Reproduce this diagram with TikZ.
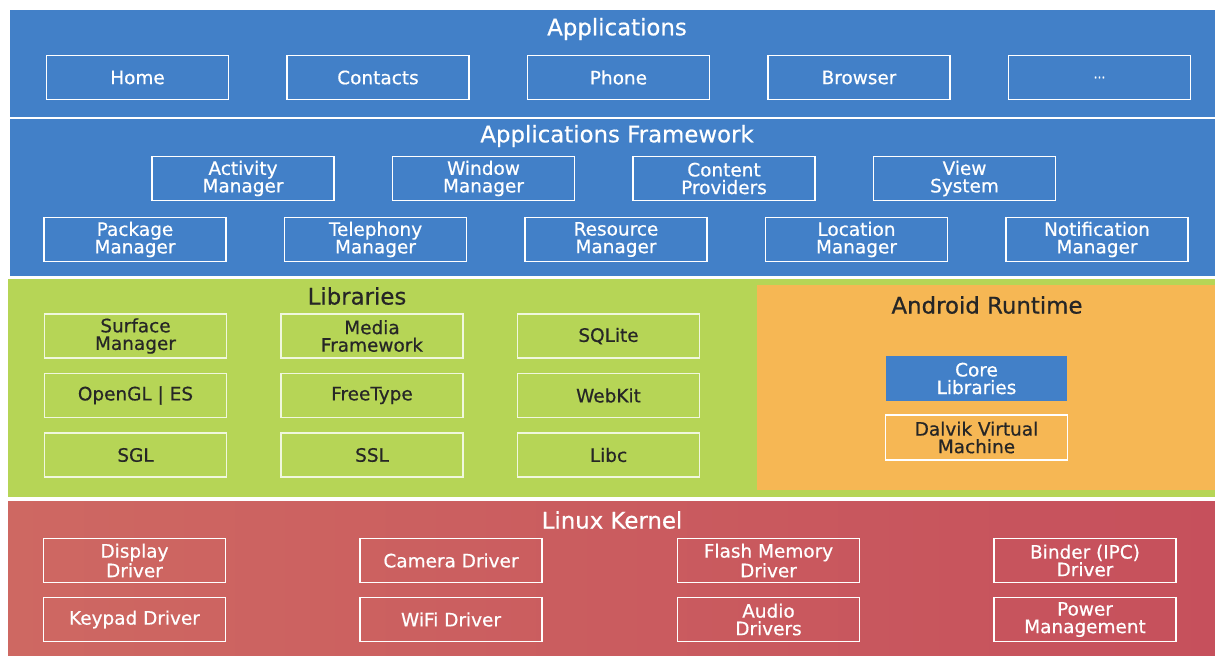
\documentclass[tikz,border=0pt]{standalone}
\usepackage{fontspec}
\setmainfont{DejaVu Sans}
\newfontfamily\medfont{DejaVu Sans}[FakeBold=0.6]
\usepackage{tikz}
\definecolor{appblue}{RGB}{66,128,200}
\definecolor{libgreen}{RGB}{182,213,86}
\definecolor{rtorange}{RGB}{246,183,84}
\definecolor{kernredL}{RGB}{206,104,98}
\definecolor{kernredR}{RGB}{198,80,92}
\definecolor{inkdark}{RGB}{38,38,38}
\tikzset{node distance=4.81cm, auto,
  box/.style={draw=white, line width=0.9pt, minimum width=3.64cm, minimum height=0.88cm,
              inner sep=0pt, align=center, font=\medfont\fontsize{10.5}{10}\selectfont},
  wbox/.style={box, text=white},
  dbox/.style={box, draw=white!80!libgreen, text=inkdark},
  layer/.style={font=\medfont\fontsize{13}{13}\selectfont}}

\begin{document}
\begin{tikzpicture}
                \useasboundingbox (0,0) rectangle (24.3,-13.18);
                \fill[white] (0,0) rectangle (24.3,-13.18);
                \fill[appblue] (0.2,-0.2) rectangle (24.3,-2.34);
                \fill[appblue] (0.2,-2.38) rectangle (24.3,-5.52);
                \fill[libgreen] (0.16,-5.58) rectangle (24.3,-9.94);
                \fill[rtorange] (15.14,-5.7) rectangle (24.3,-9.8);
                \shade[left color=kernredL, right color=kernredR] (0.16,-10.02) rectangle (24.3,-13.1);

                \node (apps)     [layer, text=white] at (12.34,-0.58) {Applications};
                \node (home)     [wbox] at (2.75,-1.55)  {Home};
                \node (contacts) [wbox, right of=home]     {Contacts};
                \node (phone)    [wbox, right of=contacts] {Phone};
                \node (browser)  [wbox, right of=phone]    {Browser};
                \node (more)     [wbox, right of=browser]  {\scriptsize ...};

                \node (frame)    [layer, text=white] at (12.34,-2.72) {Applications Framework};
                \node (activity) [wbox] at (4.86,-3.57)   {Activity\\Manager};
                \node (window)   [wbox, right of=activity] {Window\\Manager};
                \node (content)  [wbox, right of=window]   {Content\\Providers};
                \node (view)     [wbox, right of=content]  {View\\System};
                \node (package)  [wbox] at (2.7,-4.79)    {Package\\Manager};
                \node (telephony)[wbox, right of=package]  {Telephony\\Manager};
                \node (resource) [wbox, right of=telephony]{Resource\\Manager};
                \node (location) [wbox, right of=resource] {Location\\Manager};
                \node (notify)   [wbox, right of=location] {Notification\\Manager};

                \node (libs)     [layer, text=inkdark] at (7.14,-5.92) {Libraries};
                \node (surface)  [dbox] at (2.71,-6.72) {Surface\\Manager};
                \node (media)    [dbox, right of=surface, node distance=4.73cm] {Media\\Framework};
                \node (sqlite)   [dbox, right of=media, node distance=4.73cm]   {SQLite};
                \node (opengl)   [dbox, below of=surface, node distance=1.19cm] {OpenGL | ES};
                \node (freetype) [dbox, below of=media, node distance=1.19cm]   {FreeType};
                \node (webkit)   [dbox, below of=sqlite, node distance=1.19cm]  {WebKit};
                \node (sgl)      [dbox, below of=opengl, node distance=1.19cm]  {SGL};
                \node (ssl)      [dbox, below of=freetype, node distance=1.19cm]{SSL};
                \node (libc)     [dbox, below of=webkit, node distance=1.19cm]  {Libc};

                \node (runtime)  [layer, text=inkdark] at (19.74,-6.1) {Android Runtime};
                \node (core)     [box, fill=appblue, draw=appblue, text=white, minimum width=3.58cm,
                                  minimum height=0.86cm] at (19.53,-7.57) {Core\\Libraries};
                \node (dalvik)   [box, text=inkdark, below of=core, node distance=1.18cm,
                                  minimum height=0.9cm] {Dalvik Virtual\\Machine};

                \node (kernel)   [layer, text=white] at (12.24,-10.4) {Linux Kernel};
                \node (display)  [wbox] at (2.69,-11.21) {Display\\Driver};
                \node (keypad)   [wbox, below of=display, node distance=1.18cm] {Keypad Driver};
                \node (camera)   [wbox, right of=display, node distance=6.33cm] {Camera Driver};
                \node (wifi)     [wbox, below of=camera, node distance=1.18cm]  {WiFi Driver};
                \node (flash)    [wbox, right of=camera, node distance=6.35cm]  {Flash Memory\\Driver};
                \node (audio)    [wbox, below of=flash, node distance=1.18cm]   {Audio\\Drivers};
                \node (binder)   [wbox, right of=flash, node distance=6.33cm]   {Binder (IPC)\\Driver};
                \node (power)    [wbox, below of=binder, node distance=1.18cm]  {Power\\Management};
              \end{tikzpicture}
\end{document}
